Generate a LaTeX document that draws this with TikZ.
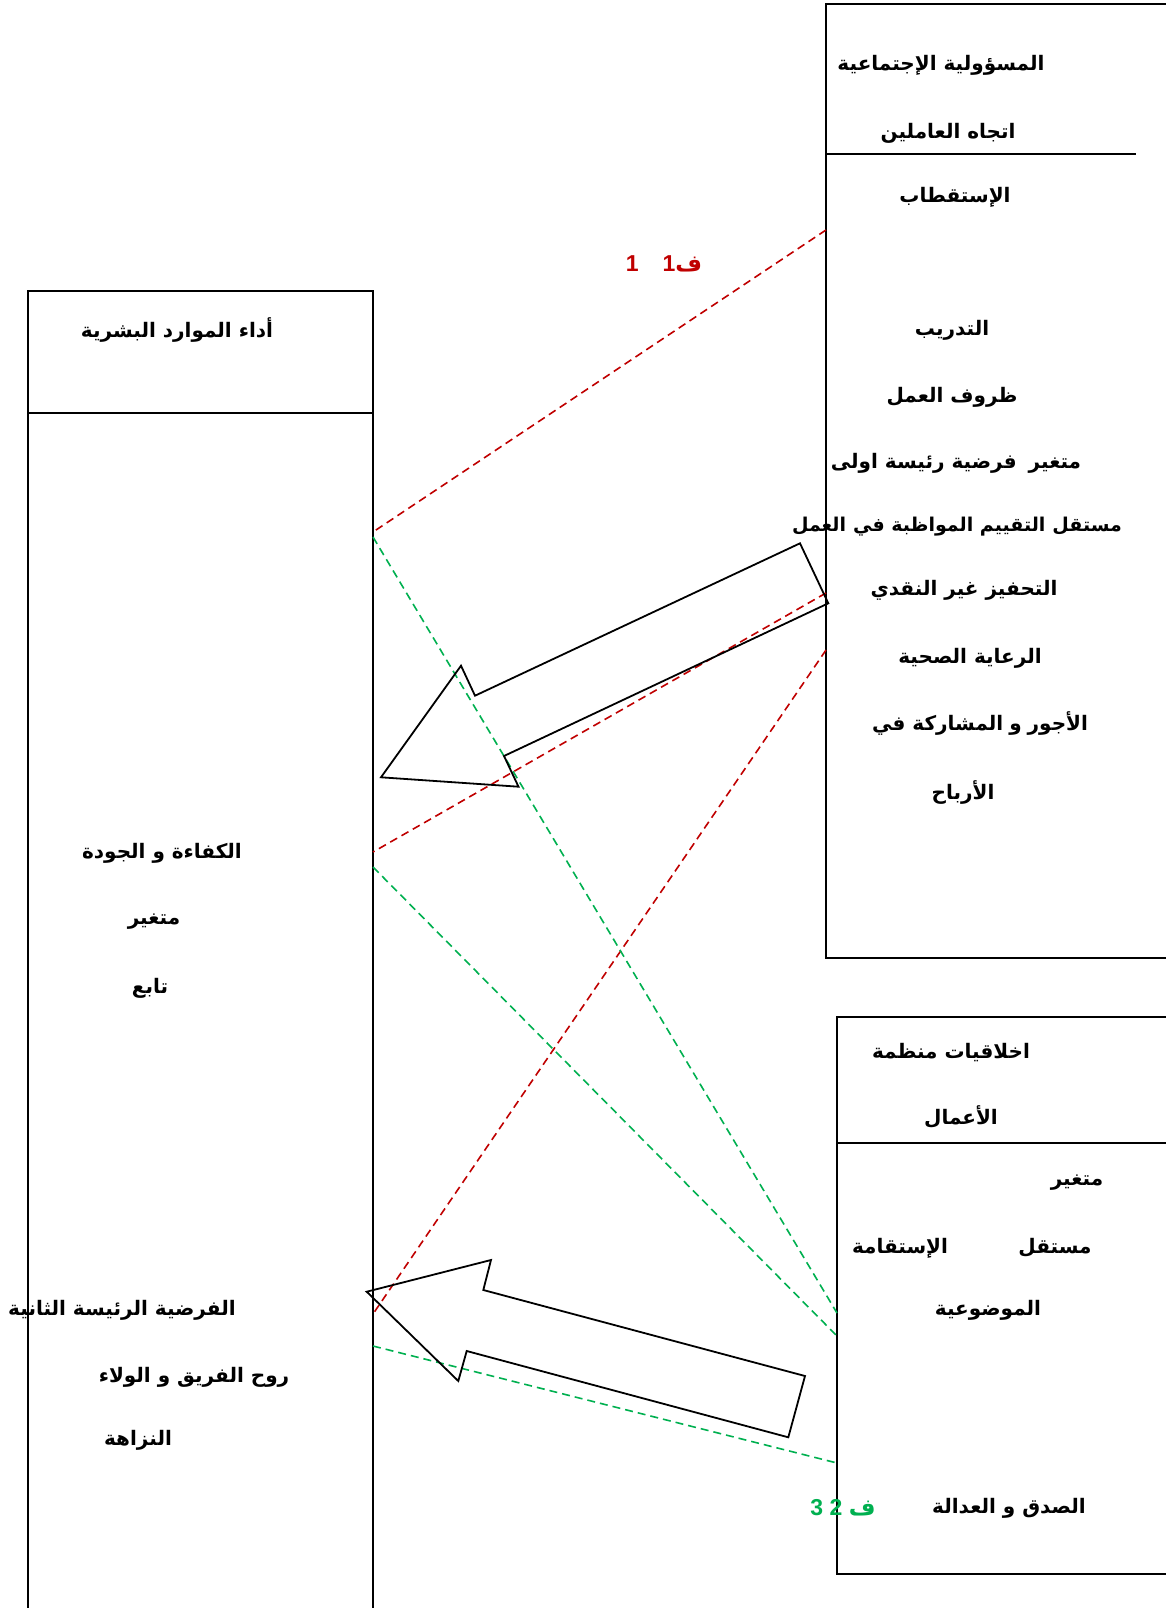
\documentclass[tikz,border=0pt]{standalone}
\usepackage{fontspec}
\setmainfont{Liberation Sans}
\newfontfamily\arabicfont[Script=Arabic]{DejaVu Sans}
\TeXXeTstate=1
\definecolor{hypred}{RGB}{192,0,0}
\definecolor{hypgreen}{RGB}{0,176,80}
\tikzset{
  frame/.style={draw=black, line width=2pt},
  blockarrow/.style={draw=black, line width=1.8pt, line join=miter},
  lbl/.style={font=\arabicfont\bfseries\fontsize{20}{24}\selectfont, inner sep=0pt, anchor=center},
  tag/.style={font=\bfseries\fontsize{23}{26}\selectfont, inner sep=0pt},
  redlink/.style={draw=hypred, line width=1.6pt, dash pattern=on 8pt off 5pt},
  greenlink/.style={draw=hypgreen, line width=1.6pt, dash pattern=on 8pt off 5pt},
}
\begin{document}
\begin{tikzpicture}[x=1pt,y=-1pt]
\useasboundingbox (0,0) rectangle (1166,1608);
\clip (0,0) rectangle (1166,1608);
\fill[white] (0,0) rectangle (1166,1608);

% dependent variable box (left)
\draw[frame] (28,1620) -- (28,291) -- (373,291) -- (373,1620);
\draw[frame] (28,413) -- (373,413);

% independent variable box: social responsibility (top right)
\draw[frame] (1180,4) -- (826,4) -- (826,958) -- (1180,958);
\draw[frame] (826,154) -- (1136,154);

% independent variable box: business ethics (bottom right)
\draw[frame] (1180,1017) -- (837,1017) -- (837,1574) -- (1180,1574);
\draw[frame] (837,1143) -- (1180,1143);

% link end points on the box edges
\coordinate (r1) at (826,230);
\coordinate (r2) at (826,593);
\coordinate (r3) at (826,650);
\coordinate (l1) at (373,532);
\coordinate (l2) at (373,852);
\coordinate (l3) at (373,1314);
\coordinate (g1) at (373,537);
\coordinate (g2) at (373,867);
\coordinate (g3) at (373,1346);
\coordinate (e1) at (837,1313);
\coordinate (e2) at (837,1336);
\coordinate (e3) at (837,1463);

% hypothesis links
\draw[redlink] (r1) -- (l1);
\draw[redlink] (r2) -- (l2);
\draw[redlink] (r3) -- (l3);
\draw[greenlink] (g1) -- (e1);
\draw[greenlink] (g2) -- (e2);
\draw[greenlink] (g3) -- (e3);

% block arrows
\draw[blockarrow] (800,543.3) -- (475,695.7) -- (461,665.7) -- (381,777.3)
  -- (518.5,786.7) -- (504,756) -- (828.3,603.3) -- cycle;
\draw[blockarrow] (366.7,1291.7) -- (491,1260) -- (483.3,1290) -- (805,1376)
  -- (788.3,1437.3) -- (466.7,1351) -- (458.3,1381) -- cycle;

% top right box texts
\node[lbl] (a1) at (941,65) {\beginR المسؤولية الإجتماعية\endR};
\node[lbl] (a2) at (948,133) {\beginR اتجاه العاملين\endR};
\node[lbl] (a3) at (955,197) {\beginR الإستقطاب\endR};
\node[lbl] (a4) at (952,330) {\beginR التدريب\endR};
\node[lbl] (a5) at (952,397) {\beginR ظروف العمل\endR};
\node[lbl] (a6) at (956,463) {\beginR متغير\hspace{12pt}فرضية رئيسة اولى\endR};
\node[lbl, font=\arabicfont\bfseries\fontsize{19}{24}\selectfont] (a7) at (957,527)
  {\beginR مستقل\hspace{7pt}التقييم المواظبة في\hspace{7pt}العمل\endR};
\node[lbl] (a8) at (964,590) {\beginR التحفيز غير النقدي\endR};
\node[lbl] (a9) at (970,658) {\beginR الرعاية الصحية\endR};
\node[lbl] (a10) at (980,723) {\beginR الأجور\hspace{6pt}و\hspace{6pt}المشاركة في\endR};
\node[lbl] (a11) at (963,792) {\beginR الأرباح\endR};

% left box texts
\node[lbl] (b1) at (177,330) {\beginR أداء الموارد البشرية\endR};
\node[lbl] (b2) at (162,853) {\beginR الكفاءة و الجودة\endR};
\node[lbl] (b3) at (154,922) {\beginR متغير\endR};
\node[lbl] (b4) at (150,988) {\beginR تابع\endR};
\node[lbl] (b5) at (122,1310) {\beginR الفرضية الرئيسة الثانية\endR};
\node[lbl] (b6) at (194,1377) {\beginR روح الفريق و الولاء\endR};
\node[lbl] (b7) at (138,1440) {\beginR النزاهة\endR};

% bottom right box texts
\node[lbl] (c1) at (951,1053) {\beginR اخلاقيات منظمة\endR};
\node[lbl] (c2) at (961,1117) {\beginR الأعمال\endR};
\node[lbl] (c3) at (1077,1183) {\beginR متغير\endR};
\node[lbl] (c4) at (1055,1248) {\beginR مستقل\endR};
\node[lbl] (c5) at (900,1248) {\beginR الإستقامة\endR};
\node[lbl] (c6) at (988,1310) {\beginR الموضوعية\endR};
\node[lbl] (c7) at (1009,1508) {\beginR الصدق و العدالة\endR};

% hypothesis tags
\node[tag, text=hypred] (h1) at (664,264) {1\hspace{24pt}1{\arabicfont ف}};
\node[tag, text=hypgreen] (h2) at (843,1508) {3 2 {\arabicfont ف}};
\end{tikzpicture}
\end{document}
